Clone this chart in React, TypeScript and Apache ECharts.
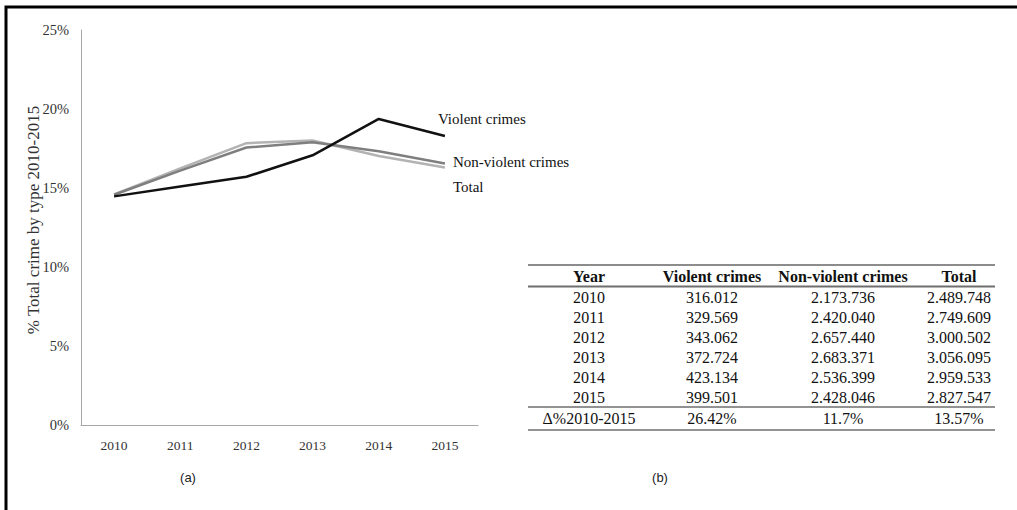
import React, { useEffect, useRef } from "react";
import * as echarts from "echarts";

const years = ["2010", "2011", "2012", "2013", "2014", "2015"];
const violentShare = [14.47, 15.09, 15.71, 17.07, 19.37, 18.29];
const nonViolentShare = [14.57, 16.1, 17.56, 17.89, 17.32, 16.55];
const totalShare = [14.59, 16.24, 17.84, 18.01, 17.02, 16.3];

const yTitle = "% Total crime by type 2010-2015";
const tableHeader = ["Year", "Violent crimes", "Non-violent crimes", "Total"];
const violentCounts = ["316.012", "329.569", "343.062", "372.724", "423.134", "399.501"];
const nonViolentCounts = ["2.173.736", "2.420.040", "2.657.440", "2.683.371", "2.536.399", "2.428.046"];
const totalCounts = ["2.489.748", "2.749.609", "3.000.502", "3.056.095", "2.959.533", "2.827.547"];
const deltaRow = ["Δ%2010-2015", "26.42%", "11.7%", "13.57%"];

const SERIF = "'Liberation Serif', 'Times New Roman', serif";
const SANS = "'Liberation Sans', Arial, sans-serif";

export default function App() {
  const ref = useRef<HTMLDivElement>(null);

  useEffect(() => {
    if (!ref.current) return;
    const chart = echarts.init(ref.current, undefined, { renderer: "svg" });

    const colX = [589, 712, 843, 959];
    const headerY = 276;
    const rowY0 = 297;
    const rowStep = 20;
    const deltaY = 418;
    const tableLeft = 528;
    const tableRight = 995;

    const tableText: any[] = [];
    tableHeader.forEach((h, i) => {
      tableText.push({
        type: "text",
        x: colX[i],
        y: headerY,
        style: { text: h, font: `bold 16px ${SERIF}`, fill: "#111", align: "center", verticalAlign: "middle" },
      });
    });
    years.forEach((yr, r) => {
      const cells = [yr, violentCounts[r], nonViolentCounts[r], totalCounts[r]];
      cells.forEach((c, i) => {
        tableText.push({
          type: "text",
          x: colX[i],
          y: rowY0 + r * rowStep,
          style: { text: c, font: `16px ${SERIF}`, fill: "#111", align: "center", verticalAlign: "middle" },
        });
      });
    });
    deltaRow.forEach((c, i) => {
      tableText.push({
        type: "text",
        x: colX[i],
        y: deltaY,
        style: { text: c, font: `16px ${SERIF}`, fill: "#111", align: "center", verticalAlign: "middle" },
      });
    });

    const rule = (y: number, w: number, color: string) => ({
      type: "line",
      shape: { x1: tableLeft, y1: y, x2: tableRight, y2: y },
      style: { stroke: color, lineWidth: w },
    });

    chart.setOption({
      animation: false,
      backgroundColor: "#fff",
      grid: { left: 81, top: 30, width: 397, height: 395, containLabel: false },
      xAxis: {
        type: "category",
        data: years,
        boundaryGap: true,
        axisLine: { lineStyle: { color: "#a6a6a6", width: 1 } },
        axisTick: { show: false },
        axisLabel: { color: "#333", fontFamily: SERIF, fontSize: 13.5, margin: 13 },
      },
      yAxis: {
        type: "value",
        min: 0,
        max: 25,
        interval: 5,
        axisLine: { show: true, lineStyle: { color: "#a6a6a6", width: 1 } },
        axisTick: { show: false },
        splitLine: { show: false },
        axisLabel: { color: "#333", fontFamily: SERIF, fontSize: 14.5, margin: 12, formatter: "{value}%" },
      },
      series: [
        {
          name: "Total",
          type: "line",
          data: totalShare,
          symbol: "none",
          lineStyle: { color: "#b3b3b3", width: 2.5 },
          itemStyle: { color: "#b3b3b3" },
          endLabel: {
            show: true,
            formatter: "Total",
            offset: [0, 20],
            color: "#111",
            fontFamily: SERIF,
            fontSize: 15,
          },
        },
        {
          name: "Non-violent crimes",
          type: "line",
          data: nonViolentShare,
          symbol: "none",
          lineStyle: { color: "#7f7f7f", width: 2.5 },
          itemStyle: { color: "#7f7f7f" },
          endLabel: {
            show: true,
            formatter: "Non-violent crimes",
            offset: [0, -2],
            color: "#111",
            fontFamily: SERIF,
            fontSize: 15,
          },
        },
        {
          name: "Violent crimes",
          type: "line",
          data: violentShare,
          symbol: "none",
          lineStyle: { color: "#111", width: 2.5 },
          itemStyle: { color: "#111" },
          endLabel: {
            show: true,
            formatter: "Violent crimes",
            offset: [-15, -17],
            color: "#111",
            fontFamily: SERIF,
            fontSize: 15,
          },
        },
      ],
      graphic: [
        {
          type: "rect",
          shape: { x: 6, y: 7, width: 1200, height: 700 },
          style: { fill: "none", stroke: "#000", lineWidth: 3 },
          silent: true,
        },
        {
          type: "text",
          x: 33,
          y: 220,
          rotation: Math.PI / 2,
          style: { text: yTitle, font: `17px ${SERIF}`, fill: "#333", align: "center", verticalAlign: "middle" },
        },
        {
          type: "text",
          x: 188,
          y: 477,
          style: { text: "(a)", font: `13px ${SANS}`, fill: "#222", align: "center", verticalAlign: "middle" },
        },
        {
          type: "text",
          x: 660,
          y: 477,
          style: { text: "(b)", font: `13px ${SANS}`, fill: "#222", align: "center", verticalAlign: "middle" },
        },
        rule(265, 2, "#8c8c8c"),
        rule(286.5, 2, "#6e6e6e"),
        rule(407, 1.5, "#6e6e6e"),
        rule(430, 1.5, "#6e6e6e"),
        ...tableText,
      ],
    });

    return () => chart.dispose();
  }, []);

  return (
    <div
      ref={ref}
      style={{ position: "fixed", left: 0, top: 0, width: 1017, height: 510 }}
    />
  );
}
